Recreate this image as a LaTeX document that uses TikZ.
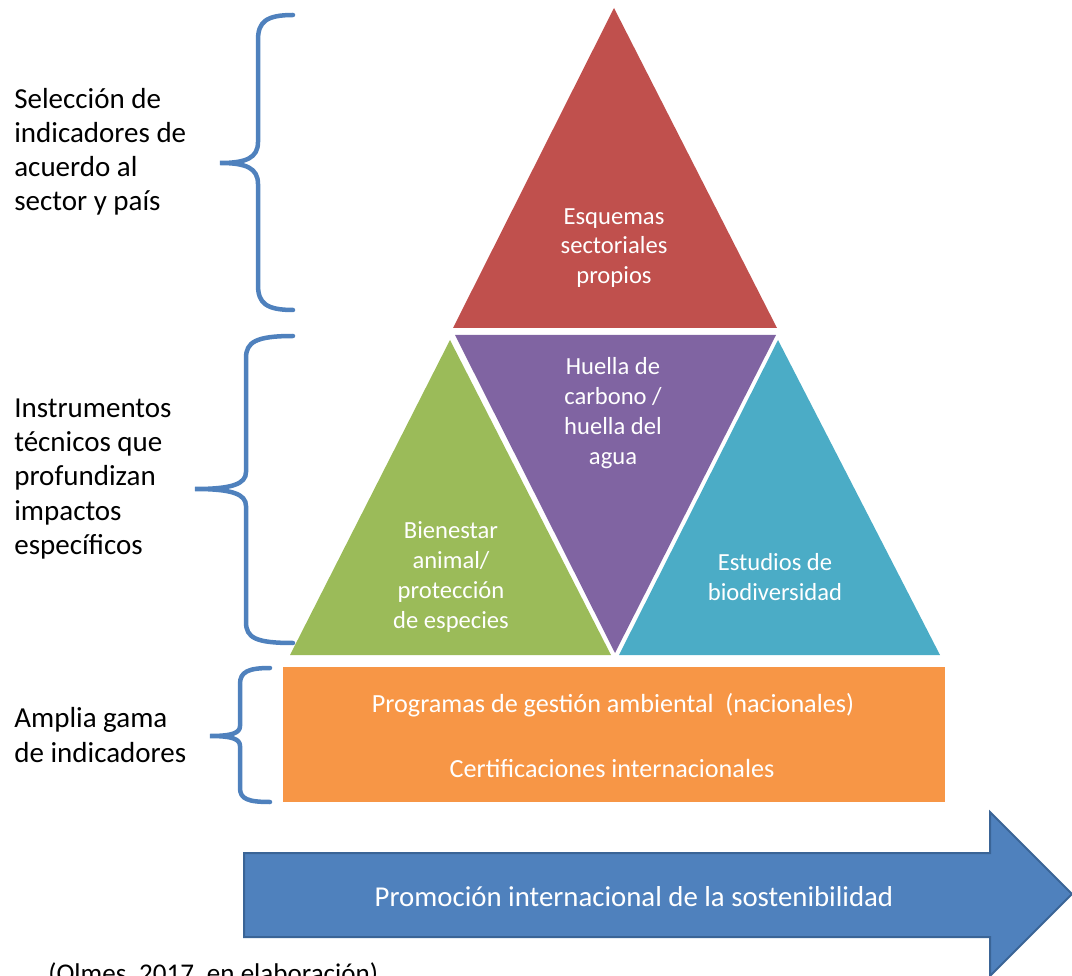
\documentclass[tikz,border=0pt]{standalone}
\usepackage{fontspec}
\setmainfont{Carlito}
\usetikzlibrary{calc}

\definecolor{redtri}{HTML}{C0504D}
\definecolor{purpletri}{HTML}{8064A2}
\definecolor{greentri}{HTML}{9BBB59}
\definecolor{bluetri}{HTML}{4BACC6}
\definecolor{orangebox}{HTML}{F79646}
\definecolor{arrowfill}{HTML}{4F81BD}
\definecolor{arrowline}{HTML}{3A6496}
\definecolor{bracecol}{HTML}{4F81BD}

\begin{document}
\begin{tikzpicture}[x=0.02cm, y=-0.02cm,
	curly/.style={draw=bracecol, line width=0.09cm, line cap=round},
	sidelabel/.style={anchor=west, align=left, inner sep=0pt, font=\fontsize{16.5}{19.4}\selectfont},
	intext/.style={align=center, inner sep=0pt, text=white, font=\fontsize{14}{17}\selectfont},
	]
	\useasboundingbox (0,0) rectangle (1072,976);

	% pyramid
	\fill[redtri] (614,8) -- (777,328) -- (453,328) -- cycle;
	\fill[purpletri] (455,335) -- (776,335) -- (615,653) -- cycle;
	\fill[greentri] (450,340) -- (611,655) -- (290,655) -- cycle;
	\fill[bluetri] (778,340) -- (940,655) -- (619,655) -- cycle;
	\fill[orangebox] (283,667) rectangle (945,802);

	% arrow
	\filldraw[fill=arrowfill, draw=arrowline, line width=0.04cm]
		(244,853) -- (990,853) -- (990,812) -- (1072,894) -- (990,976)
		-- (990,937) -- (244,937) -- cycle;

	% braces
	\draw[curly] (293,15) .. controls (266,15) and (258,22) .. (258,40) -- (258,142)
		.. controls (258,158) and (246,163) .. (220,163) .. controls (246,163) and (258,168) .. (258,184)
		-- (258,285) .. controls (258,303) and (266,310) .. (293,310);
	\draw[curly] (293,336) .. controls (256,336) and (246,342) .. (246,358) -- (246,472)
		.. controls (246,484) and (232,489) .. (195,489) .. controls (232,489) and (246,494) .. (246,506)
		-- (246,622) .. controls (246,638) and (256,643) .. (293,643);
	\draw[curly] (270,668) .. controls (248,668) and (240,672) .. (240,684) -- (240,726)
		.. controls (240,733) and (232,736) .. (210,736) .. controls (232,736) and (240,739) .. (240,746)
		-- (240,788) .. controls (240,799) and (248,802) .. (270,802);

	% labels
	\node[sidelabel] (selec) at (14,152) {Selección de\\indicadores de\\acuerdo al\\sector y país};
	\node[sidelabel] (instr) at (14,479) {Instrumentos\\técnicos que\\profundizan\\impactos\\específicos};
	\node[sidelabel] (amplia) at (14,735) {Amplia gama\\de indicadores};

	\node[intext] (esquemas) at (614,248) {Esquemas\\sectoriales\\propios};
	\node[intext] (huella) at (613,413) {Huella de\\carbono /\\huella del\\agua};
	\node[intext] (bienestar) at (451,577) {Bienestar\\animal/\\protección\\de especies};
	\node[intext] (estudios) at (775,577) {Estudios de\\biodiversidad};
	\node[intext, font=\fontsize{14.9}{17}\selectfont] (programas) at (613,705) {Programas de gestión ambiental~~(nacionales)};
	\node[intext, font=\fontsize{14.9}{17}\selectfont] (certif) at (612,769) {Certificaciones internacionales};

	\node[intext, font=\fontsize{16.4}{19}\selectfont] (promocion) at (634,897) {Promoción internacional de la sostenibilidad};
	\node[anchor=base west, inner sep=0pt, font=\fontsize{15.4}{19.4}\selectfont] (fuente) at (48,982) {(Olmes, 2017, en elaboración)};
\end{tikzpicture}
\end{document}
